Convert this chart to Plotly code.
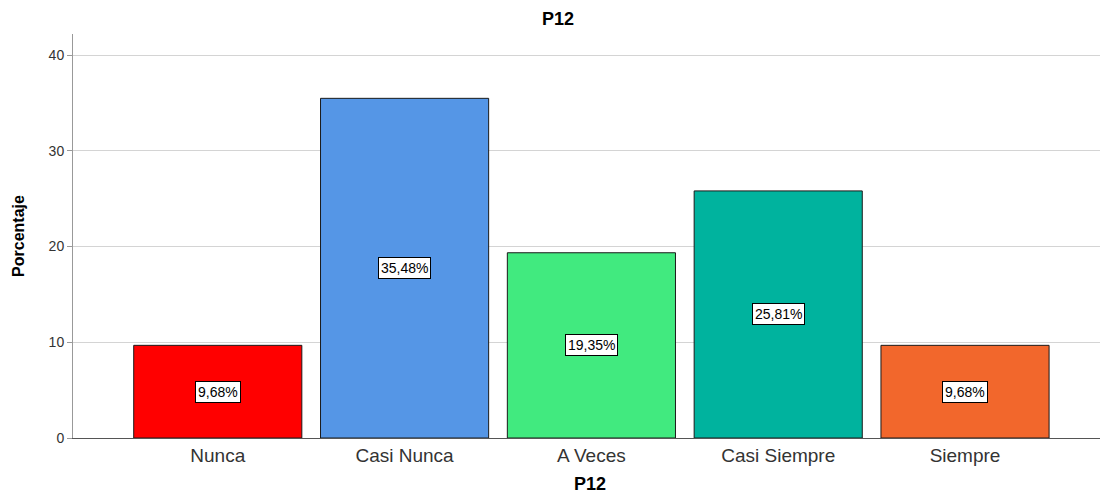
import plotly.graph_objects as go

categories = ["Nunca", "Casi Nunca", "A Veces", "Casi Siempre", "Siempre"]
values = [9.68, 35.48, 19.35, 25.81, 9.68]
labels = ["9,68%", "35,48%", "19,35%", "25,81%", "9,68%"]
colors = ["#FF0000", "#5596E6", "#41EA7F", "#00B39E", "#F2672C"]

fig = go.Figure()
fig.add_trace(go.Bar(
    x=categories, y=values, width=0.9,
    marker=dict(color=colors, line=dict(color="#1a1a1a", width=1)),
    hoverinfo="skip",
))

for c, v, t in zip(categories, values, labels):
    fig.add_annotation(
        x=c, y=v / 2, text=t, showarrow=False,
        font=dict(family="Liberation Sans, Arial", size=14, color="black"),
        bgcolor="white", bordercolor="black", borderwidth=1, borderpad=2,
    )

# page body has an 8px default margin, so the figure is sized to fit the window
fig.update_layout(
    width=1100, height=486,
    margin=dict(l=65, r=1, t=26, b=56),
    paper_bgcolor="white", plot_bgcolor="white",
    showlegend=False,
    font=dict(family="Liberation Sans, Arial", color="#222"),
    title=dict(text="<b>P12</b>", x=0.5, xanchor="center", y=1, yanchor="top",
               pad=dict(t=4), font=dict(size=18, color="black")),
    xaxis=dict(
        range=[-0.775, 4.76], showgrid=False, showline=True, linecolor="#555",
        linewidth=1, ticks="", tickfont=dict(size=19, color="#333"), automargin=False,
        title=dict(text="<b>P12</b>", font=dict(size=18, color="black"), standoff=17),
    ),
    yaxis=dict(
        range=[0, 42.2], tickvals=[0, 10, 20, 30, 40], showgrid=True,
        gridcolor="#D4D4D4", gridwidth=1, showline=True, linecolor="#999",
        ticks="outside", ticklen=5, tickcolor="#999", zeroline=False, automargin=False,
        tickfont=dict(size=14, color="#333"),
        title=dict(text="<b>Porcentaje</b>", font=dict(size=16, color="black"), standoff=20),
    ),
)

fig.write_html("out.html")
